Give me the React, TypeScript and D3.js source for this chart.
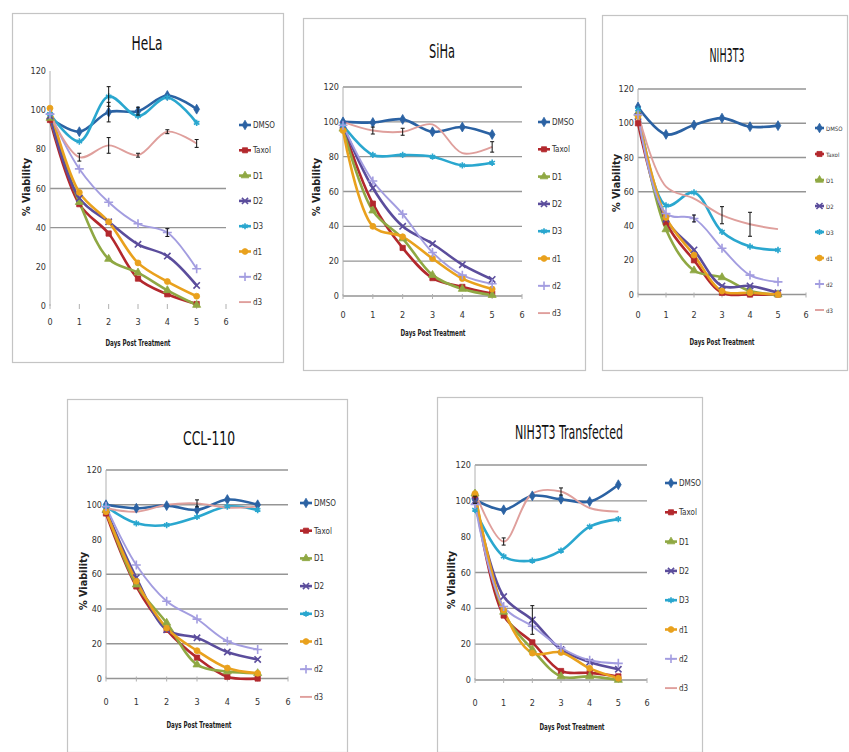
import React from "react";
import * as d3 from "d3";

const days = [0, 1, 2, 3, 4, 5];
const xTicks = [0, 1, 2, 3, 4, 5, 6];
const yTicks = [0, 20, 40, 60, 80, 100, 120];
const seriesNames = ["DMSO", "Taxol", "D1", "D2", "D3", "d1", "d2", "d3"];
const seriesColors = ["#2b62a3", "#b3282d", "#8fa843", "#5b4d9c", "#2aa7cf", "#e9a11d", "#a39de0", "#df9f9c"];
const panelTitles = ["HeLa", "SiHa", "NIH3T3", "CCL-110", "NIH3T3 Transfected"];
const xAxisTitle = "Days Post Treatment";
const yAxisTitle = "% Viability";

const helaValues = [
  [96, 89, 99, 99.5, 107.5, 100.5],
  [95, 52, 37, 14, 6, 1],
  [96, 53, 24, 17, 8, 0.5],
  [97, 55, 43, 31.5, 25.5, 10.5],
  [98, 84, 107, 97, 106.5, 93.5],
  [101, 58, 43, 22, 12.5, 5],
  [98, 70, 53, 42, 37.5, 19],
  [98, 76, 82, 77, 89, 83],
];
const sihaValues = [
  [100, 99.6, 101.4, 94.3, 97, 92.7],
  [97, 53, 27.6, 10.3, 5.2, 1.4],
  [96, 49, 33, 12, 4, 0.5],
  [98, 62, 40, 30, 18, 9.5],
  [98, 81, 81, 80, 75, 76.5],
  [95, 40, 34, 21.5, 10, 4],
  [98, 66, 47, 25, 12, 7],
  [100, 95, 94.3, 98.5, 82, 85.6],
];
const nih3t3Values = [
  [109.5, 93.5, 99, 103, 98, 98.6],
  [100, 42, 20, 1, 0, 0],
  [106, 38, 14, 10, 2, 0],
  [104, 44, 26, 5, 5, 1],
  [108, 52, 59.6, 36.6, 28, 26],
  [104, 45, 23, 2, 1, 0],
  [105, 47.3, 44.4, 27, 11.3, 7.4],
  [106, 63, 56, 46.3, 41, 38.2],
];
const cclValues = [
  [100, 98, 99.5, 97, 103, 100],
  [95, 53, 28, 12, 1, 0],
  [97, 54, 32, 8, 4, 3],
  [97, 58, 28, 23.4, 15.3, 11],
  [99, 89.3, 88.3, 93, 99, 97],
  [96, 56, 29, 16, 6, 3],
  [99, 65.3, 44.5, 34.2, 21.5, 16.7],
  [98, 96, 100, 100.8, 98.3, 99],
];
const transfectedValues = [
  [100.6, 95, 102.8, 100.9, 99.6, 109],
  [103, 36, 21, 5, 4, 2],
  [104, 38, 17, 2, 2, 0],
  [100, 46.6, 33.5, 17, 10, 6],
  [95, 69, 66.6, 72.2, 85.6, 89.8],
  [104, 39, 15, 15.4, 6.5, 1],
  [98, 41, 30, 18, 11, 9.3],
  [105, 77.3, 104, 105.2, 96, 94],
];

// error bars: [series index, day, half-width]
const helaErrors = [[0, 2, 5], [4, 2, 5], [7, 1, 2], [7, 2, 4], [7, 3, 1], [7, 4, 1], [7, 5, 2], [0, 3, 2], [6, 4, 2]];
const sihaErrors = [[7, 1, 2], [7, 2, 2], [7, 5, 3]];
const nih3t3Errors = [[7, 3, 5], [7, 4, 7], [6, 2, 2]];
const cclErrors = [[7, 3, 2]];
const transfectedErrors = [[3, 2, 8], [7, 1, 2], [7, 3, 2], [0, 0, 2]];

const panelValues = [helaValues, sihaValues, nih3t3Values, cclValues, transfectedValues];
const panelErrors = [helaErrors, sihaErrors, nih3t3Errors, cclErrors, transfectedErrors];
const panelGrid = [
  [40, 60],
  [0, 20, 40, 60, 80, 100, 120],
  [0, 60, 80, 100, 120],
  [0, 20, 40, 60, 100, 120],
  [0, 20, 40, 60, 100, 120],
];

const symbolTypes = [
  d3.symbolDiamond, d3.symbolSquare, d3.symbolTriangle, d3.symbolTimes,
  d3.symbolAsterisk, d3.symbolCircle, d3.symbolPlus, null,
];
const symbolFilled = [true, true, true, false, false, true, false, false];

const layouts = [
  { box: [12, 13, 283, 362], x0: 50, x6: 226, y0: 306, y120: 71, tx: 147, ty: 50, tw: 31,
    lx: 239, ly: 125, ls: 25.3, lw: 12, lfs: 8, xlx: 138, xly: 346, ylx: 30, yly: 187, xty: 325 },
  { box: [303, 18, 585, 370], x0: 343, x6: 522, y0: 296, y120: 87, tx: 442, ty: 58, tw: 26,
    lx: 538, ly: 122, ls: 27.3, lw: 12, lfs: 8, xlx: 433, xly: 336, ylx: 320, yly: 187, xty: 318 },
  { box: [602, 15, 847, 370], x0: 638, x6: 806, y0: 294.5, y120: 89, tx: 727, ty: 62, tw: 35,
    lx: 815, ly: 128, ls: 26, lw: 9, lfs: 6, xlx: 722, xly: 345, ylx: 620, yly: 183, xty: 318 },
  { box: [67, 399, 347, 752], x0: 106, x6: 288, y0: 678.5, y120: 470, tx: 209, ty: 445, tw: 52,
    lx: 300, ly: 503, ls: 27.7, lw: 12, lfs: 8, xlx: 199, xly: 728, ylx: 87, yly: 581, xty: 705 },
  { box: [437, 397, 702, 752], x0: 475, x6: 647, y0: 680, y120: 465, tx: 569, ty: 439, tw: 108,
    lx: 665, ly: 483, ls: 29.3, lw: 12, lfs: 8, xlx: 572, xly: 730, ylx: 455, yly: 580, xty: 706 },
];

const FONT = "'Liberation Sans Narrow','DejaVu Sans Condensed','Arial Narrow',sans-serif";

function Marker({ si, x, y, size }: { si: number; x: number; y: number; size: number }) {
  const t = symbolTypes[si];
  if (!t) return null;
  const path = d3.symbol().type(t).size(size)() as string;
  const c = seriesColors[si];
  return (
    <path
      d={path}
      transform={`translate(${x},${y})`}
      fill={symbolFilled[si] ? c : "none"}
      stroke={c}
      strokeWidth={symbolFilled[si] ? 0.8 : 1.6}
    />
  );
}

function Panel({ idx }: { idx: number }) {
  const L = layouts[idx];
  const values = panelValues[idx];
  const errors = panelErrors[idx];
  const x = d3.scaleLinear().domain([0, 6]).range([L.x0, L.x6]);
  const y = d3.scaleLinear().domain([0, 120]).range([L.y0, L.y120]);
  const line = d3
    .line<number>()
    .x((_, i) => x(days[i]))
    .y((v) => y(v))
    .curve(d3.curveCatmullRom.alpha(0.5));
  const [bx0, by0, bx1, by1] = L.box;
  return (
    <g>
      <rect x={bx0 + 0.5} y={by0 + 0.5} width={bx1 - bx0} height={by1 - by0} fill="#fff" stroke="#c4c4c4" strokeWidth={1.2} />
      <text x={L.tx} y={L.ty} textAnchor="middle" fontFamily={FONT} fontSize={19} fill="#111"
        textLength={L.tw} lengthAdjust="spacingAndGlyphs">{panelTitles[idx]}</text>
      {panelGrid[idx].map((g) => (
        <line key={"g" + g} x1={L.x0} x2={L.x6} y1={y(g)} y2={y(g)} stroke="#959595" strokeWidth={1.3} />
      ))}
      <line x1={L.x0} x2={L.x0} y1={y(120)} y2={y(0)} stroke="#b0b0b0" strokeWidth={1} />
      {xTicks.map((t) => (
        <line key={"xt" + t} x1={x(t)} x2={x(t)} y1={y(0) - 2} y2={y(0) + 3} stroke="#b0b0b0" strokeWidth={1} />
      ))}
      {yTicks.map((t) => (
        <text key={"yl" + t} x={L.x0 - 4} y={y(t) + 3} textAnchor="end" fontFamily={FONT} fontSize={9} fill="#333">{t}</text>
      ))}
      {xTicks.map((t) => (
        <text key={"xl" + t} x={x(t)} y={L.xty} textAnchor="middle" fontFamily={FONT} fontSize={9} fill="#333">{t}</text>
      ))}
      <text x={L.xlx} y={L.xly} textAnchor="middle" fontFamily={FONT} fontSize={9} fontWeight="bold" fill="#222"
        textLength={65} lengthAdjust="spacingAndGlyphs">{xAxisTitle}</text>
      <text transform={`translate(${L.ylx},${L.yly}) rotate(-90)`} textAnchor="middle" fontFamily={FONT} fontSize={10}
        fontWeight="bold" fill="#222" textLength={58} lengthAdjust="spacingAndGlyphs">{yAxisTitle}</text>
      {values.map((vals, si) => (
        <path key={"s" + si} d={line(vals) as string} fill="none" stroke={seriesColors[si]}
          strokeWidth={si >= 6 ? 1.9 : 2.6} strokeLinejoin="round" />
      ))}
      {values.map((vals, si) =>
        vals.map((v, di) => <Marker key={"m" + si + "-" + di} si={si} x={x(days[di])} y={y(v)} size={28} />)
      )}
      {errors.map(([si, di, e], k) => {
        const v = values[si][di];
        const cx = x(days[di]);
        return (
          <g key={"e" + k} stroke="#111" strokeWidth={1}>
            <line x1={cx} x2={cx} y1={y(v + e)} y2={y(v - e)} />
            <line x1={cx - 2} x2={cx + 2} y1={y(v + e)} y2={y(v + e)} />
            <line x1={cx - 2} x2={cx + 2} y1={y(v - e)} y2={y(v - e)} />
          </g>
        );
      })}
      {seriesNames.map((name, si) => {
        const ly = L.ly + si * L.ls;
        const tx = L.lx + L.lw + 2;
        return (
          <g key={"lg" + si}>
            <line x1={L.lx} x2={L.lx + L.lw} y1={ly} y2={ly} stroke={seriesColors[si]} strokeWidth={si >= 6 ? 1.9 : 2.6} />
            <Marker si={si} x={L.lx + L.lw / 2} y={ly} size={26} />
            <text x={tx} y={ly + 3} fontFamily={FONT} fontSize={L.lfs} fill="#333">{name}</text>
          </g>
        );
      })}
    </g>
  );
}

export default function App() {
  return (
    <svg width={849} height={752} style={{ position: "absolute", left: 0, top: 0, background: "#fff" }}>
      <rect x={0} y={0} width={849} height={752} fill="#fff" />
      {layouts.map((_, i) => (
        <Panel key={i} idx={i} />
      ))}
    </svg>
  );
}
